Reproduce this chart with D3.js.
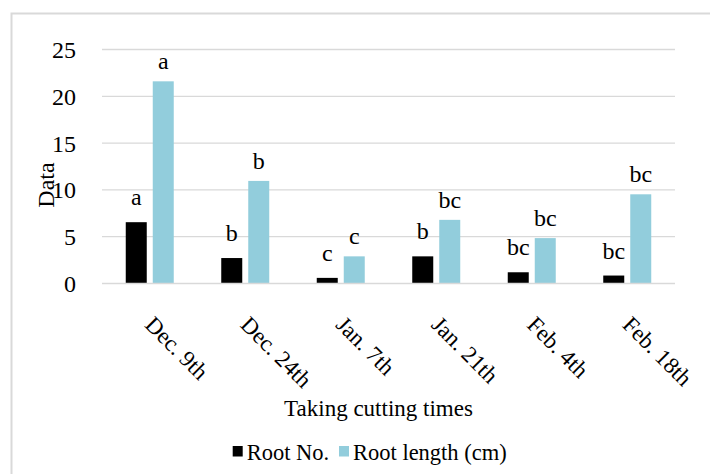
<!DOCTYPE html>
<html><head><meta charset="utf-8">
<script src="https://cdn.jsdelivr.net/npm/d3@7"></script>
<style>html,body{margin:0;padding:0;background:#fff;}svg{display:block;}</style>
</head><body>
<svg id="c" width="710" height="474"></svg>
<script>
const categories = ["Dec. 9th","Dec. 24th","Jan. 7th","Jan. 21th","Feb. 4th","Feb. 18th"];
const seriesNames = ["Root No.","Root length (cm)"];
const rootNo = [6.55, 2.72, 0.6, 2.9, 1.2, 0.85];
const rootLength = [21.6, 10.96, 2.9, 6.8, 4.85, 9.53];
const rootNoLetters = ["a","b","c","b","bc","bc"];
const rootLengthLetters = ["a","b","c","bc","bc","bc"];
const yTicks = [0,5,10,15,20,25];
const colors = ["#000000","#92CDDC"];

const svg = d3.select("#c");
const font = "'Liberation Serif','Times New Roman',serif";

// border
svg.append("rect").attr("x",11.5).attr("y",13.5).attr("width",720).attr("height",480)
  .attr("fill","none").attr("stroke","#d9d9d9").attr("stroke-width",2);

const left = 102, right = 675;
const y = d3.scaleLinear().domain([0,25]).range([283.5,49.5]);
const x0 = d3.scaleBand().domain(categories).range([left,right]).padding(0);
const bw = x0.bandwidth();
const x1 = d3.scaleBand().domain(seriesNames).range([bw/2-27,bw/2+27]).paddingInner(6/27).paddingOuter(3/27);

// gridlines
svg.append("g").selectAll("line").data(yTicks.filter(d=>d>0)).join("line")
  .attr("x1",left).attr("x2",right).attr("y1",d=>y(d)).attr("y2",d=>y(d))
  .attr("stroke","#d9d9d9").attr("stroke-width",1.3);

// y axis labels
const yAxis = d3.axisLeft(y).tickValues(yTicks).tickSize(0).tickPadding(0);
const gy = svg.append("g").attr("transform","translate(76,0)").call(yAxis);
gy.select(".domain").remove();
gy.attr("font-family",font).attr("font-size",24);
gy.selectAll("text").attr("font-family",font).attr("font-size",24).attr("fill","#000").attr("dy","0.33em");

const data = categories.map((c,i)=>({cat:c, vals:[
  {s:seriesNames[0], v:rootNo[i], l:rootNoLetters[i]},
  {s:seriesNames[1], v:rootLength[i], l:rootLengthLetters[i]}
]}));

const groups = svg.append("g").selectAll("g").data(data).join("g")
  .attr("transform",d=>`translate(${x0(d.cat)},0)`);
groups.selectAll("rect").data(d=>d.vals).join("rect")
  .attr("x",d=>x1(d.s)).attr("width",x1.bandwidth())
  .attr("y",d=>y(d.v)).attr("height",d=>y(0)-y(d.v))
  .attr("fill",(d,i)=>colors[i]);
groups.selectAll("text").data(d=>d.vals).join("text")
  .attr("x",d=>x1(d.s)+x1.bandwidth()/2)
  .attr("y",(d,i)=>y(d.v)-(i===0?17:12))
  .attr("text-anchor","middle").attr("font-family",font).attr("font-size",24).attr("fill","#000")
  .text(d=>d.l);

// x axis line
svg.append("line").attr("x1",left).attr("x2",right).attr("y1",y(0)).attr("y2",y(0))
  .attr("stroke","#d9d9d9").attr("stroke-width",1.5);

// x tick labels
const xAxis = d3.axisBottom(x0).tickSize(0).tickPadding(0);
const gx = svg.append("g").call(xAxis);
gx.select(".domain").remove();
gx.attr("font-family",font).attr("font-size",23);
gx.selectAll(".tick").attr("transform",d=>`translate(${x0(d)+bw/2-6},326)`);
gx.selectAll("text").attr("y",0).attr("dy",0).attr("x",0)
  .attr("text-anchor","start").attr("transform","rotate(45)")
  .attr("font-family",font).attr("font-size",23).attr("fill","#000");

// axis titles
svg.append("text").attr("x",378.5).attr("y",416).attr("text-anchor","middle")
  .attr("font-family",font).attr("font-size",23).text("Taking cutting times");
svg.append("text").attr("transform","translate(54,185) rotate(-90)").attr("text-anchor","middle")
  .attr("font-family",font).attr("font-size",24).text("Data");

// legend
const legX = [232.7, 339];
const leg = svg.append("g").selectAll("g").data(seriesNames).join("g")
  .attr("transform",(d,i)=>`translate(${legX[i]},0)`);
leg.append("rect").attr("x",0).attr("y",446).attr("width",10).attr("height",10.5).attr("fill",(d,i)=>colors[i]);
leg.append("text").attr("x",14).attr("y",460).attr("font-family",font).attr("font-size",22.5).text(d=>d);
</script>
</body></html>
